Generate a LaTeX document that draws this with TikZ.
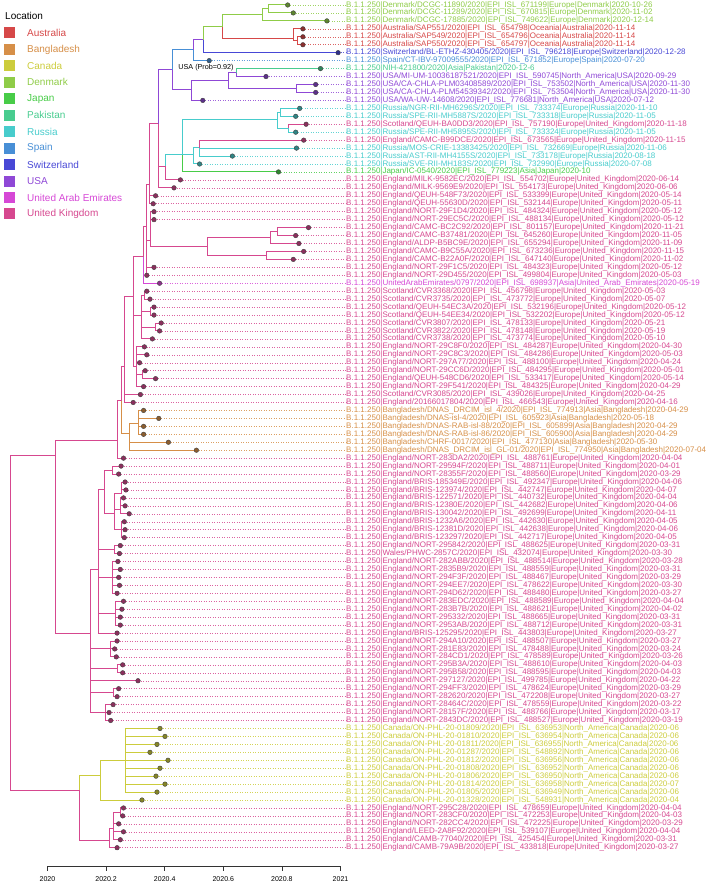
\documentclass[tikz,border=0pt]{standalone}
\usepackage{fontspec}
\setmainfont{Liberation Sans}
\usetikzlibrary{calc}
\pgfdeclarelayer{fg}
\pgfsetlayers{main,fg}
\definecolor{cAU}{RGB}{214,72,72}
\definecolor{cBD}{RGB}{214,143,72}
\definecolor{cCA}{RGB}{204,204,60}
\definecolor{cDK}{RGB}{143,204,72}
\definecolor{cJP}{RGB}{72,204,72}
\definecolor{cPK}{RGB}{72,204,143}
\definecolor{cRU}{RGB}{72,204,204}
\definecolor{cES}{RGB}{72,143,214}
\definecolor{cCH}{RGB}{72,72,214}
\definecolor{cUS}{RGB}{143,72,214}
\definecolor{cAE}{RGB}{214,72,214}
\definecolor{cUK}{RGB}{214,72,143}
\pgfmathdeclarefunction{ry}{1}{\pgfmathparse{5+(#1-1)*7.95}}
\tikzset{
 tipdot/.style={circle,inner sep=0pt,minimum size=4.6pt,draw=black!75,line width=0.4pt},
 lab/.style={anchor=west,inner sep=0pt,font=\fontsize{8}{9}\selectfont},
 dotl/.style={dotted,line width=0.5pt},
 branch/.style={line width=1pt},
 legtxt/.style={anchor=west,inner sep=0pt,font=\fontsize{10}{12}\selectfont},
 legbox/.style={minimum size=11pt,inner sep=0pt},
}
\newcommand\leafx[6]{%
 \coordinate (l#1) at (#2,{ry(#1)});
 \node[lab,text=#3] (t#1) at (346,{ry(#1)}) {B.1.1.250|#4/2020|EPI\_ISL\_#5|#6};
 \draw[dotl,#3!85] (l#1) -- (t#1);
 \begin{pgfonlayer}{fg}\node[tipdot,fill=#3!65!black] (d#1) at (l#1) {};\end{pgfonlayer}}
\newcommand\ukleaf[5]{\leafx{#1}{#2}{cUK}{#3}{#4}{Europe|United\_Kingdom|#5}}
\newcommand\caleaf[5]{\leafx{#1}{#2}{cCA}{Canada/ON-PHL-20-#3}{#4}{North\_America|Canada|#5}}
\newcommand\brn[3]{\foreach \cc in {#2}{\draw[branch,#3] (#1) |- (\cc);}}
\newcommand\inode[3]{\coordinate (#1) at (#2,#3);}
\newcommand\inoder[3]{\coordinate (#1) at (#2,{ry(#3)});}
\begin{document}
\begin{tikzpicture}[x=1pt,y=-1pt]
\useasboundingbox (0,0) rectangle (711,885);
% ---------------- leaves
\leafx{1}{287.7}{cDK}{Denmark/DCGC-11890}{671199}{Europe|Denmark|2020-10-26}
\leafx{2}{293.3}{cDK}{Denmark/DCGC-11289}{670815}{Europe|Denmark|2020-11-02}
\leafx{3}{326.9}{cDK}{Denmark/DCGC-17885}{749622}{Europe|Denmark|2020-12-14}
\leafx{4}{302.9}{cAU}{Australia/SAP551}{654798}{Oceania|Australia|2020-11-14}
\leafx{5}{302.9}{cAU}{Australia/SAP549}{654796}{Oceania|Australia|2020-11-14}
\leafx{6}{302.9}{cAU}{Australia/SAP550}{654797}{Oceania|Australia|2020-11-14}
\leafx{7}{338.1}{cCH}{Switzerland/BL-ETHZ-430405}{796218}{Europe|Switzerland|2020-12-28}
\leafx{8}{209.2}{cES}{Spain/CT-IBV-97009555}{671852}{Europe|Spain|2020-07-20}
\coordinate (l9) at (320.5,{ry(9)});
\node[lab,text=cPK] (t9) at (346,{ry(9)}) {B.1.1.250|NIH-421800/2020|Asia|Pakistan|2020-12-6};
\draw[dotl,cPK!85] (l9) -- (t9);
\begin{pgfonlayer}{fg}\node[tipdot,fill=cPK!65!black] (d9) at (l9) {};\end{pgfonlayer}
\leafx{10}{266}{cUS}{USA/MI-UM-10036187521}{590745}{North\_America|USA|2020-09-29}
\leafx{11}{315.7}{cUS}{USA/CA-CHLA-PLM03408589}{753502}{North\_America|USA|2020-11-30}
\leafx{12}{315.7}{cUS}{USA/CA-CHLA-PLM54539342}{753504}{North\_America|USA|2020-11-30}
\leafx{13}{202.8}{cUS}{USA/WA-UW-14608}{776681}{North\_America|USA|2020-07-12}
\leafx{14}{299.7}{cRU}{Russia/NGR-RII-MH6296S}{733374}{Europe|Russia|2020-11-10}
\leafx{15}{295.7}{cRU}{Russia/SPE-RII-MH5887S}{733318}{Europe|Russia|2020-11-05}
\ukleaf{16}{306.1}{Scotland/QEUH-BA0DD3}{757190}{2020-11-18}
\leafx{17}{295.7}{cRU}{Russia/SPE-RII-MH5895S}{733324}{Europe|Russia|2020-11-05}
\ukleaf{18}{303.7}{England/CAMC-B99DCE}{673565}{2020-11-15}
\leafx{19}{296.5}{cRU}{Russia/MOS-CRIE-13383425}{732669}{Europe|Russia|2020-11-06}
\leafx{20}{232.4}{cRU}{Russia/AST-RII-MH4155S}{733178}{Europe|Russia|2020-08-18}
\leafx{21}{199.6}{cRU}{Russia/SVE-RII-MH183S}{732990}{Europe|Russia|2020-07-08}
\leafx{22}{278.5}{cJP}{Japan/IC-0540}{779223}{Asia|Japan|2020-10}
\ukleaf{23}{180.4}{England/MILK-9582EC}{554702}{2020-06-14}
\ukleaf{24}{174}{England/MILK-9569E9}{554173}{2020-06-06}
\ukleaf{25}{155.6}{England/QEUH-548F73}{533399}{2020-05-14}
\ukleaf{26}{153.2}{England/QEUH-55630D}{532144}{2020-05-11}
\ukleaf{27}{154}{England/NORT-29F1D4}{484324}{2020-05-12}
\ukleaf{28}{154}{England/NORT-29EC5C}{488134}{2020-05-12}
\ukleaf{29}{308.5}{England/CAMC-BC2C92}{801157}{2020-11-21}
\ukleaf{30}{295.7}{England/CAMC-B37481}{645260}{2020-11-05}
\ukleaf{31}{298.9}{England/ALDP-B5BC9E}{655294}{2020-11-09}
\ukleaf{32}{303.7}{England/CAMC-B9C55A}{673236}{2020-11-15}
\ukleaf{33}{293.3}{England/CAMC-B22A0F}{647140}{2020-11-02}
\ukleaf{34}{154}{England/NORT-29F1C5}{484323}{2020-05-12}
\ukleaf{35}{146.8}{England/NORT-29D455}{499804}{2020-05-03}
\leafx{36}{159.6}{cAE}{UnitedArabEmirates/0797}{698937}{Asia|United\_Arab\_Emirates|2020-05-19}
\ukleaf{37}{146.8}{Scotland/CVR3368}{456798}{2020-05-03}
\ukleaf{38}{150}{Scotland/CVR3735}{473772}{2020-05-07}
\ukleaf{39}{154}{Scotland/QEUH-54EC3A}{532196}{2020-05-12}
\ukleaf{40}{154}{Scotland/QEUH-54EE34}{532202}{2020-05-12}
\ukleaf{41}{161.2}{Scotland/CVR3807}{478133}{2020-05-21}
\ukleaf{42}{159.6}{Scotland/CVR3822}{478148}{2020-05-19}
\ukleaf{43}{152.4}{Scotland/CVR3738}{473774}{2020-05-10}
\ukleaf{44}{144.4}{England/NORT-29C8F0}{484287}{2020-04-30}
\ukleaf{45}{146.8}{England/NORT-29C8C3}{484286}{2020-05-03}
\ukleaf{46}{139.6}{England/NORT-297A77}{488100}{2020-04-24}
\ukleaf{47}{145.2}{England/NORT-29CC6D}{484295}{2020-05-01}
\ukleaf{48}{155.6}{England/QEUH-548CD6}{533417}{2020-05-14}
\ukleaf{49}{143.6}{England/NORT-29F541}{484325}{2020-04-29}
\ukleaf{50}{140.4}{Scotland/CVR3085}{439026}{2020-04-25}
\ukleaf{51}{133.2}{England/20166017804}{466543}{2020-04-16}
\leafx{52}{143.6}{cBD}{Bangladesh/DNAS\_DRCIM\_isl\_4}{774913}{Asia|Bangladesh|2020-04-29}
\leafx{53}{158.8}{cBD}{Bangladesh/DNAS-isl-4}{605923}{Asia|Bangladesh|2020-05-18}
\leafx{54}{143.6}{cBD}{Bangladesh/DNAS-RAB-isl-88}{605899}{Asia|Bangladesh|2020-04-29}
\leafx{55}{143.6}{cBD}{Bangladesh/DNAS-RAB-isl-86}{605900}{Asia|Bangladesh|2020-04-29}
\leafx{56}{168.4}{cBD}{Bangladesh/CHRF-0017}{477130}{Asia|Bangladesh|2020-05-30}
\leafx{57}{196.4}{cBD}{Bangladesh/DNAS\_DRCIM\_isl\_GL-01}{774950}{Asia|Bangladesh|2020-07-04}
\ukleaf{58}{123.5}{England/NORT-283DA2}{488761}{2020-04-04}
\ukleaf{59}{121.1}{England/NORT-29594F}{488711}{2020-04-01}
\ukleaf{60}{118.7}{England/NORT-28355F}{488560}{2020-03-29}
\ukleaf{61}{125.1}{England/BRIS-185349E}{492347}{2020-04-06}
\ukleaf{62}{125.9}{England/BRIS-123974}{442747}{2020-04-07}
\ukleaf{63}{123.5}{England/BRIS-122571}{440732}{2020-04-04}
\ukleaf{64}{125.1}{England/BRIS-12380E}{442682}{2020-04-06}
\ukleaf{65}{129.2}{England/BRIS-130042}{492699}{2020-04-11}
\ukleaf{66}{124.3}{England/BRIS-1232A6}{442630}{2020-04-05}
\ukleaf{67}{125.1}{England/BRIS-12381D}{442638}{2020-04-06}
\ukleaf{68}{124.3}{England/BRIS-123297}{442717}{2020-04-05}
\ukleaf{69}{120.3}{England/NORT-295842}{488625}{2020-03-31}
\ukleaf{70}{119.5}{Wales/PHWC-2857C}{432074}{2020-03-30}
\ukleaf{71}{117.9}{England/NORT-282ABB}{488514}{2020-03-28}
\ukleaf{72}{120.3}{England/NORT-2835B9}{488559}{2020-03-31}
\ukleaf{73}{118.7}{England/NORT-294F3F}{488467}{2020-03-29}
\ukleaf{74}{119.5}{England/NORT-294EE7}{478622}{2020-03-30}
\ukleaf{75}{117.1}{England/NORT-294D62}{488480}{2020-03-27}
\ukleaf{76}{123.5}{England/NORT-283EDC}{488589}{2020-04-04}
\ukleaf{77}{121.9}{England/NORT-283B7B}{488621}{2020-04-02}
\ukleaf{78}{120.3}{England/NORT-295332}{488665}{2020-03-31}
\ukleaf{79}{120.3}{England/NORT-2953AB}{488712}{2020-03-31}
\ukleaf{80}{117.1}{England/BRIS-125295}{443803}{2020-03-27}
\ukleaf{81}{117.1}{England/NORT-294A10}{488507}{2020-03-27}
\ukleaf{82}{114.7}{England/NORT-281E83}{478488}{2020-03-24}
\ukleaf{83}{116.3}{England/NORT-284CD1}{478589}{2020-03-26}
\ukleaf{84}{122.7}{England/NORT-295B3A}{488610}{2020-04-03}
\ukleaf{85}{122.7}{England/NORT-295B58}{488595}{2020-04-03}
\ukleaf{86}{138}{England/NORT-297127}{499785}{2020-04-22}
\ukleaf{87}{118.7}{England/NORT-294FF3}{478624}{2020-03-29}
\ukleaf{88}{117.1}{England/NORT-282620}{472208}{2020-03-27}
\ukleaf{89}{113.1}{England/NORT-28464C}{478559}{2020-03-22}
\ukleaf{90}{109.1}{England/NORT-28157F}{488766}{2020-03-17}
\ukleaf{91}{110.7}{England/NORT-2843DC}{488527}{2020-03-19}
\caleaf{92}{160}{01809}{636953}{2020-06}
\caleaf{93}{165}{01810}{636954}{2020-06}
\caleaf{94}{157}{01811}{636955}{2020-06}
\caleaf{95}{150}{01287}{548892}{2020-06}
\caleaf{96}{168}{01812}{636956}{2020-06}
\caleaf{97}{160}{01808}{636952}{2020-06}
\caleaf{98}{156}{01806}{636950}{2020-06}
\caleaf{99}{165}{01814}{636958}{2020-07}
\caleaf{100}{157}{01805}{636949}{2020-06}
\caleaf{101}{142}{01328}{548931}{2020-04}
\ukleaf{102}{123.5}{England/NORT-295C28}{478659}{2020-04-04}
\ukleaf{103}{122.7}{England/NORT-283CF0}{472253}{2020-04-03}
\ukleaf{104}{118.7}{England/NORT-282CC4}{472225}{2020-03-29}
\ukleaf{105}{123.5}{England/LEED-2A8F92}{539107}{2020-04-04}
\ukleaf{106}{120.3}{England/CAMB-77040}{425454}{2020-03-31}
\ukleaf{107}{117.1}{England/CAMB-79A9B}{433818}{2020-03-27}
% ---------------- internal nodes (x, y in px)
\inode{d12}{268}{8.7}\inode{d123}{262}{14.7}
\inode{a56}{297}{40.7}\inode{a4}{293}{38.7}
\inode{da}{222.7}{26.7}\inode{t1}{203.3}{40}\inode{sx}{193.3}{50}
\inode{u4}{236}{72.7}\inode{u12}{296.7}{88.3}\inode{u3}{228.3}{80.7}
\inode{u2}{191}{90}\inode{u0}{172}{70}
\inode{r12}{280.7}{112.3}\inode{r34}{288.7}{128.3}\inode{r1}{277.3}{120}
\inode{rC}{199.3}{148}\inode{rB}{193.3}{155}\inode{rA}{182.7}{155}
\inode{rP}{165.7}{166.7}\inode{uR}{158.3}{124}
\inode{v2}{149.3}{185}\inode{w1}{150.7}{240}
\inode{n1a}{277.3}{231.6}\inode{n1}{270}{237.3}\inode{n2}{266}{255.3}\inode{n3}{207.3}{246.7}
\inode{v3}{146}{226.7}\inode{v4}{143.3}{256.7}
\inode{g37ab}{144.5}{295.2}\inode{g39}{150.3}{311.1}\inode{g41}{155.5}{327}\inode{g37}{141}{315}
\inode{g47}{142}{374.7}\inode{g44}{136.7}{366.7}
\inode{v5}{133.3}{296.7}\inode{v6}{124.3}{366.7}
\inode{bgA}{138.3}{423}\inode{bgB}{129.3}{433}
\inode{v7}{121.7}{400}\inode{v8}{117.5}{440}
\inoder{h58}{112}{59.5}
\inoder{h61b}{121}{62.5}\inoder{h63}{120.5}{64.5}\inoder{h66}{121.5}{67}\inoder{h61}{114}{65}
\inoder{h69}{114.5}{69.5}\inoder{h71}{112}{73}\inoder{h76}{115.5}{77.5}
\inoder{h81}{110}{82}\inoder{h84}{117.5}{84.5}\inoder{h87}{113}{87.5}\inoder{h89}{105}{90}
\inoder{k1}{104}{62}\inoder{k2}{98}{72}\inoder{k3}{90}{80}
\inode{v9}{55}{455}
\inode{c1}{125}{760.3}\inode{c0}{100}{775}
\inode{La}{120.5}{812}\inode{L2}{113.6}{828}\inode{L1}{109}{840}\inode{Lr}{79.5}{790}
\inode{root}{10}{620}
% ---------------- branches
\brn{d12}{l1,l2}{cDK}\brn{d123}{d12,l3}{cDK}
\brn{a56}{l5,l6}{cAU}\brn{a4}{l4,a56}{cAU}
\brn{da}{d123}{cDK}\brn{da}{a4}{cAU}
\brn{t1}{da}{cDK}\brn{t1}{l7}{cCH}
\brn{sx}{t1}{cUS}\brn{sx}{l8}{cES}
\brn{u4}{l9}{cPK}\brn{u4}{l10}{cUS}
\brn{u12}{l11,l12}{cUS}\brn{u3}{u4,u12}{cUS}\brn{u2}{u3,l13}{cUS}
\brn{u0}{sx}{cES}\brn{u0}{u2}{cUS}
\brn{r12}{l14,l15}{cRU}\brn{r34}{l16}{cUK}\brn{r34}{l17}{cRU}
\brn{r1}{r12,r34}{cRU}
\brn{rC}{l18}{cUK}\brn{rC}{l19,l20}{cRU}
\brn{rB}{rC,l21}{cRU}
\brn{rA}{r1,rB}{cRU}\brn{rA}{l22}{cJP}
\brn{rP}{rA}{cRU}\brn{rP}{l23}{cUK}
\brn{uR}{u0}{cUS}\brn{uR}{rP,l24}{cUK}
\brn{v2}{uR,l25,l26}{cUK}
\brn{n1a}{l29,l30}{cUK}\brn{n1}{n1a,l31}{cUK}\brn{n2}{l32,l33}{cUK}\brn{n3}{n1,n2}{cUK}
\brn{w1}{l27,l28,n3}{cUK}
\brn{v3}{v2,w1,l34,l35}{cUK}
\brn{v4}{v3}{cUK}\brn{v4}{l36}{cAE}
\brn{g37ab}{l37,l38}{cUK}\brn{g39}{l39,l40}{cUK}\brn{g41}{l41,l42}{cUK}
\brn{g37}{g37ab,g39,g41,l43}{cUK}
\brn{g47}{l47,l48}{cUK}\brn{g44}{l44,l45,l46,g47,l49}{cUK}
\brn{v5}{v4,g37,g44}{cUK}
\brn{v6}{v5,l50,l51}{cUK}
\brn{bgA}{l52,l53,l54,l55}{cBD}\brn{bgB}{bgA,l56,l57}{cBD}
\brn{v7}{v6}{cUK}\brn{v7}{bgB}{cBD}
\brn{v8}{v7,l58}{cUK}
\brn{h58}{l59,l60}{cUK}
\brn{h61b}{l61,l62}{cUK}\brn{h63}{l63,l64,l65}{cUK}\brn{h66}{l66,l67,l68}{cUK}
\brn{h61}{h61b,h63,h66}{cUK}
\brn{h69}{l69,l70}{cUK}\brn{h71}{l71,l72,l73,l74,l75}{cUK}\brn{h76}{l76,l77,l78,l79}{cUK}
\brn{h81}{l81,l82,l83}{cUK}\brn{h84}{l84,l85}{cUK}\brn{h87}{l87,l88}{cUK}\brn{h89}{l89,l90,l91}{cUK}
\brn{k1}{h58,h61}{cUK}
\brn{k2}{k1,h69,h71,h76,l80}{cUK}
\brn{k3}{k2,h81,h84,l86,h87,h89}{cUK}
\brn{v9}{v8,k3}{cUK}
\brn{c1}{l92,l93,l94,l95,l96,l97,l98,l99,l100}{cCA}\brn{c0}{c1,l101}{cCA}
\brn{La}{l102,l103}{cUK}\brn{L2}{La,l104,l105,l106}{cUK}\brn{L1}{L2,l107}{cUK}
\brn{Lr}{c0}{cCA}\brn{Lr}{L1}{cUK}
\brn{root}{v9,Lr}{cUK}
% ---------------- annotation
\node[font=\fontsize{7.2}{8}\selectfont,inner sep=0pt] (usa) at (206,67.7) {USA (Prob=0.92)};
% ---------------- legend
\node[legtxt] (legtitle) at (5,16) {Location};
\foreach \nm/\col [count=\i from 0] in {Australia/cAU,Bangladesh/cBD,Canada/cCA,Denmark/cDK,Japan/cJP,Pakistan/cPK,Russia/cRU,Spain/cES,Switzerland/cCH,USA/cUS,United Arab Emirates/cAE,United Kingdom/cUK}{
 \node[legbox,fill=\col] (lb\i) at (9.5,{33+16.45*\i}) {};
 \node[legtxt,text=\col] (lt\i) at (27,{33+16.45*\i}) {\nm};
}
% ---------------- axis
\coordinate (ax0) at (47.5,866);
\coordinate (ax1) at (340.5,866);
\draw[line width=0.8pt,black!80] (ax0) -- (ax1);
\foreach \lbl [count=\k from 0] in {2020,2020.2,2020.4,2020.6,2020.8,2021}{
 \coordinate (tk\k) at ($(ax0)!{\k/5}!(ax1)$);
 \draw[line width=0.8pt,black!80] (tk\k) -- ++(0,5);
 \node[font=\fontsize{7}{8}\selectfont,inner sep=0pt] (tl\k) at ($(tk\k)+(0,13)$) {\lbl};
}
\end{tikzpicture}
\end{document}
